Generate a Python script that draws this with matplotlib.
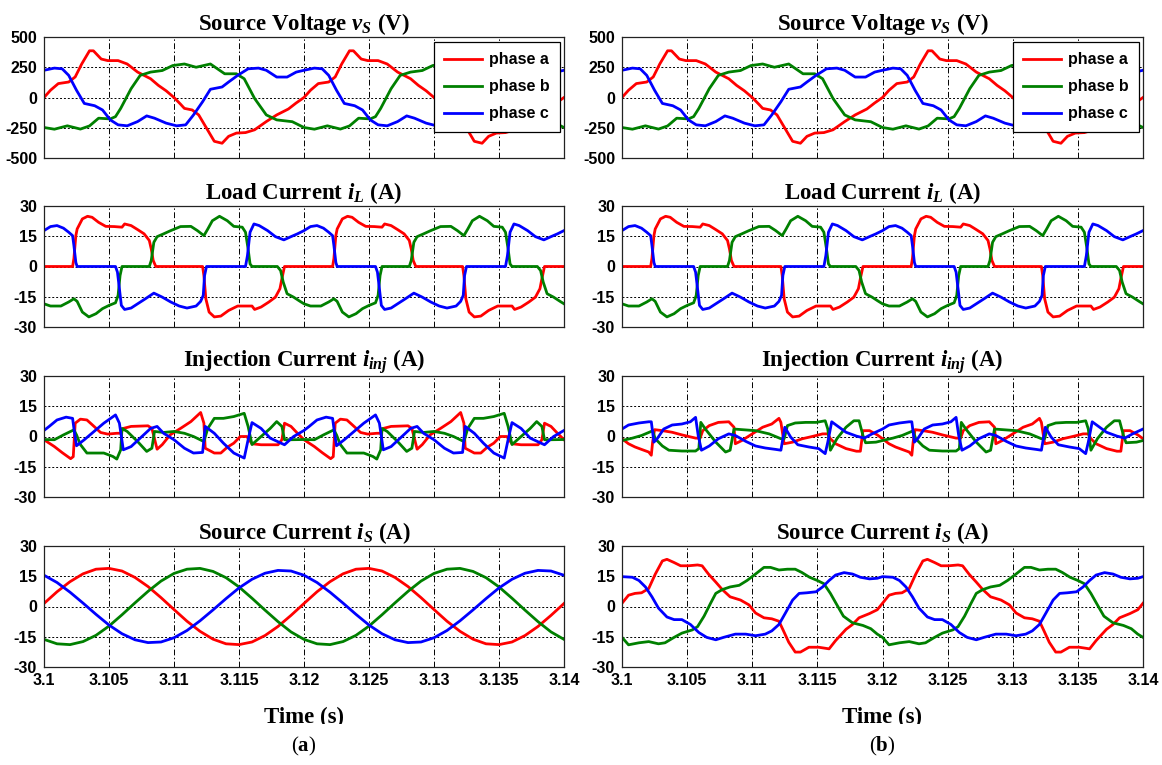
import numpy as np
import matplotlib.pyplot as plt
from matplotlib.patches import Rectangle

plt.rcParams['mathtext.fontset'] = 'custom'
plt.rcParams['mathtext.rm'] = 'Liberation Serif:bold'
plt.rcParams['mathtext.it'] = 'Liberation Serif:italic:bold'
plt.rcParams['mathtext.bf'] = 'Liberation Serif:bold'

# all times are in ms after t = 3.1 s

# source voltage (V), same in both cases
vsa_t = [0, 0.5, 1.1, 1.9, 2.4, 2.9, 3.5, 3.8, 4.4, 4.9, 5.7, 6.4, 7.2, 8.2, 8.8, 9.4, 10.0, 10.5, 10.8, 11.4, 11.9, 12.5, 13.1, 13.7, 14.2, 14.8, 15.5, 16.2, 17.1, 17.9, 18.8, 19.4,
         20, 20.5, 21.1, 21.9, 22.4, 22.9, 23.5, 23.8, 24.4, 24.9, 25.7, 26.4, 27.2, 28.2, 28.8, 29.4, 30.0, 30.5, 30.8, 31.4, 31.9, 32.5, 33.1, 33.7, 34.2, 34.8, 35.5, 36.2, 37.1, 37.9, 38.8, 39.4, 40]
vsa = [0, 60, 115, 128, 170, 277, 386, 386, 318, 305, 305, 277, 210, 155, 100, 55, 0, -55, -90, -103, -144, -253, -362, -378, -321, -294, -290, -267, -199, -144, -95, -45,
       0, 60, 115, 128, 170, 277, 386, 386, 318, 305, 305, 277, 210, 155, 100, 55, 0, -55, -90, -103, -144, -253, -362, -378, -321, -294, -290, -267, -199, -144, -95, -45, 0]
vsb_t = [0, 0.8, 1.8, 2.8, 3.5, 4.2, 5.1, 5.5, 5.9, 6.7, 7.4, 8.2, 9.1, 9.9, 10.8, 11.7, 12.8, 13.9, 14.8, 15.4, 16.2, 17.1, 17.9, 19.1,
         20, 20.8, 21.8, 22.8, 23.5, 24.2, 25.1, 25.5, 25.9, 26.7, 27.4, 28.2, 29.1, 29.9, 30.8, 31.7, 32.8, 33.9, 34.8, 35.4, 36.2, 37.1, 37.9, 39.1, 40]
vsb = [-248, -262, -234, -261, -235, -171, -177, -158, -90, 73, 183, 210, 223, 264, 277, 250, 277, 196, 196, 155, -8, -144, -185, -200,
       -248, -262, -234, -261, -235, -171, -177, -158, -90, 73, 183, 210, 223, 264, 277, 250, 277, 196, 196, 155, -8, -144, -185, -200, -248]
vsc_t = [0, 0.8, 1.4, 1.9, 2.5, 3.1, 3.9, 4.5, 5.1, 5.7, 6.4, 7.2, 7.9, 8.5, 9.4, 10.2, 10.9, 11.5, 12.2, 12.8, 13.7, 14.2, 14.9, 15.7, 16.5, 17.1, 17.9, 18.7, 19.4,
         20, 20.8, 21.4, 21.9, 22.5, 23.1, 23.9, 24.5, 25.1, 25.7, 26.4, 27.2, 27.9, 28.5, 29.4, 30.2, 30.9, 31.5, 32.2, 32.8, 33.7, 34.2, 34.9, 35.7, 36.5, 37.1, 37.9, 38.7, 39.4, 40]
vsc = [225, 243, 237, 183, 60, -49, -68, -103, -185, -226, -234, -199, -152, -171, -212, -234, -226, -144, -35, 68, 87, 128, 183, 237, 243, 225, 169, 169, 210,
       225, 243, 237, 183, 60, -49, -68, -103, -185, -226, -234, -199, -152, -171, -212, -234, -226, -144, -35, 68, 87, 128, 183, 237, 243, 225, 169, 169, 210, 225]

# load current (A), same in both cases
ila_t = [0, 2.2, 2.3, 2.45, 2.55, 2.95, 3.35, 3.7, 4.2, 4.75, 5.4, 6.0, 6.2, 6.7, 7.2, 7.7, 8.1, 8.25, 8.4, 8.6, 12.2, 12.3, 12.45, 12.7, 13.1, 13.6, 14.2, 14.9, 16.0, 16.2, 16.7, 17.3, 17.8, 18.15, 18.3, 18.5,
         20, 22.2, 22.3, 22.45, 22.55, 22.95, 23.35, 23.7, 24.2, 24.75, 25.4, 26.0, 26.2, 26.7, 27.2, 27.7, 28.1, 28.25, 28.4, 28.6, 32.2, 32.3, 32.45, 32.7, 33.1, 33.6, 34.2, 34.9, 36.0, 36.2, 36.7, 37.3, 37.8, 38.15, 38.3, 38.5, 40]
ila = [0, 0, 4, 15.3, 18.6, 23.6, 24.9, 24.4, 21.9, 19.9, 19.8, 19.5, 21.1, 20.3, 18.3, 16.2, 12.9, 8.7, 3, 0, 0, -4.5, -16, -22.6, -25, -24.6, -21.8, -19.6, -19.6, -21.3, -20.1, -17.6, -15.2, -11, -6, 0,
       0, 0, 4, 15.3, 18.6, 23.6, 24.9, 24.4, 21.9, 19.9, 19.8, 19.5, 21.1, 20.3, 18.3, 16.2, 12.9, 8.7, 3, 0, 0, -4.5, -16, -22.6, -25, -24.6, -21.8, -19.6, -19.6, -21.3, -20.1, -17.6, -15.2, -11, -6, 0, 0]
ilb_t = [0, 0.5, 1.3, 1.9, 2.3, 2.55, 2.95, 3.45, 4.0, 4.5, 5.0, 5.5, 5.7, 5.85, 6.0, 8.1, 8.25, 8.45, 8.7, 9.2, 9.75, 10.5, 11.3, 11.8, 12.3, 12.6, 12.95, 13.5, 14.1, 14.6, 15.25, 15.5, 15.7, 15.85, 16.0, 17.95, 18.2, 18.4, 18.7, 19.2, 19.7,
         20, 20.5, 21.3, 21.9, 22.3, 22.55, 22.95, 23.45, 24.0, 24.5, 25.0, 25.5, 25.7, 25.85, 26.0, 28.1, 28.25, 28.45, 28.7, 29.2, 29.75, 30.5, 31.3, 31.8, 32.3, 32.6, 32.95, 33.5, 34.1, 34.6, 35.25, 35.5, 35.7, 35.85, 36.0, 37.95, 38.2, 38.4, 38.7, 39.2, 39.7, 40]
ilb = [-18.5, -19.6, -19.6, -17.6, -16, -17.3, -22.6, -25, -23.4, -20.9, -19.3, -18, -14.3, -4.5, 0, 0, 3, 12, 14.8, 16.2, 17.8, 19.8, 19.9, 17.8, 15.3, 18.6, 22.7, 24.9, 22.7, 19.9, 19.5, 17, 8.7, 1.3, 0, 0, -2, -7.7, -13.5, -15.2, -17.3,
       -18.5, -19.6, -19.6, -17.6, -16, -17.3, -22.6, -25, -23.4, -20.9, -19.3, -18, -14.3, -4.5, 0, 0, 3, 12, 14.8, 16.2, 17.8, 19.8, 19.9, 17.8, 15.3, 18.6, 22.7, 24.9, 22.7, 19.9, 19.5, 17, 8.7, 1.3, 0, 0, -2, -7.7, -13.5, -15.2, -17.3, -18.5]
ilc_t = [0, 0.5, 1.0, 1.5, 1.9, 2.2, 2.3, 2.45, 2.55, 5.5, 5.65, 5.8, 5.95, 6.2, 6.7, 7.2, 7.8, 8.45, 9.1, 9.75, 10.4, 11.0, 11.7, 12.05, 12.25, 12.35, 12.5, 15.5, 15.65, 15.85, 16.15, 16.55, 17.2, 17.8, 18.45, 19.0, 19.5,
         20, 20.5, 21.0, 21.5, 21.9, 22.2, 22.3, 22.45, 22.55, 25.5, 25.65, 25.8, 25.95, 26.2, 26.7, 27.2, 27.8, 28.45, 29.1, 29.75, 30.4, 31.0, 31.7, 32.05, 32.25, 32.35, 32.5, 35.5, 35.65, 35.85, 36.15, 36.55, 37.2, 37.8, 38.45, 39.0, 39.5, 40]
ilc = [17.8, 19.8, 20.3, 19, 17, 15.3, 10.4, 2, 0, 0, -2.8, -11, -19.3, -21.3, -20.6, -18.5, -16, -13.2, -15.2, -17.6, -19.6, -20.6, -19.6, -17.3, -14.3, -4.5, 0, 0, 5.4, 17, 21.1, 20.3, 17.8, 14.8, 13.2, 14.8, 16.2,
       17.8, 19.8, 20.3, 19, 17, 15.3, 10.4, 2, 0, 0, -2.8, -11, -19.3, -21.3, -20.6, -18.5, -16, -13.2, -15.2, -17.6, -19.6, -20.6, -19.6, -17.3, -14.3, -4.5, 0, 0, 5.4, 17, 21.1, 20.3, 17.8, 14.8, 13.2, 14.8, 16.2, 17.8]

# injection current (A), case (a)
inj1a_t = [0, 0.8, 1.4, 2.05, 2.25, 2.4, 2.8, 3.3, 3.85, 4.35, 4.9, 5.6, 5.9, 6.1, 6.7, 8.0, 8.3, 8.7, 9.1, 9.7, 10.5, 11.3, 12.05, 12.3, 12.4, 13.1, 13.6, 14.1, 14.6, 15.1, 15.6, 16.0, 16.7, 18.0, 18.3, 18.5, 19.0, 19.5,
           20, 20.8, 21.4, 22.05, 22.25, 22.4, 22.8, 23.3, 23.85, 24.35, 24.9, 25.6, 25.9, 26.1, 26.7, 28.0, 28.3, 28.7, 29.1, 29.7, 30.5, 31.3, 32.05, 32.3, 32.4, 33.1, 33.6, 34.1, 34.6, 35.1, 35.6, 36.0, 36.7, 38.0, 38.3, 38.5, 39.0, 39.5, 40]
inj1a = [-1.6, -5, -8, -11, -10, 6.6, 8.6, 8.2, 5, 2, 1.2, 1.6, 1.6, 4, 5, 5.3, 4, -6.3, -4, 0.8, 4, 7.4, 11.9, 6.6, -5.8, -8.2, -8.2, -5.3, -3.3, 0, 0, -3.6, -4.1, -4.1, -1.6, 6.6, 5, 1.6,
         -1.6, -5, -8, -11, -10, 6.6, 8.6, 8.2, 5, 2, 1.2, 1.6, 1.6, 4, 5, 5.3, 4, -6.3, -4, 0.8, 4, 7.4, 11.9, 6.6, -5.8, -8.2, -8.2, -5.3, -3.3, 0, 0, -3.6, -4.1, -4.1, -1.6, 6.6, 5, 1.6, -1.6]
inj1b_t = [0, 0.8, 1.5, 2.3, 2.5, 2.8, 3.3, 3.85, 4.6, 5.3, 5.6, 5.9, 6.0, 6.4, 7.2, 7.9, 8.3, 8.5, 9.2, 10.0, 10.8, 11.5, 12.3, 12.6, 13.1, 13.8, 14.6, 15.4, 15.7, 16.0, 16.7, 17.4, 17.9, 18.3, 18.5, 19.0,
           20, 20.8, 21.5, 22.3, 22.5, 22.8, 23.3, 23.85, 24.6, 25.3, 25.6, 25.9, 26.0, 26.4, 27.2, 27.9, 28.3, 28.5, 29.2, 30.0, 30.8, 31.5, 32.3, 32.6, 33.1, 33.8, 34.6, 35.4, 35.7, 36.0, 36.7, 37.4, 37.9, 38.3, 38.5, 39.0, 40]
inj1b = [-1.5, -1.6, 0.8, 3.3, 0.8, -4, -8.2, -8.2, -8.2, -9.9, -11.2, -6.6, 4, 2.5, -2.5, -7.4, -5.8, 2.5, 2, 2.5, 1.6, 0, -2.5, 4, 9, 9, 9.9, 11.5, 5, -4, 0, 4, 7.4, 5, -1.6, -1.6,
         -1.5, -1.6, 0.8, 3.3, 0.8, -4, -8.2, -8.2, -8.2, -9.9, -11.2, -6.6, 4, 2.5, -2.5, -7.4, -5.8, 2.5, 2, 2.5, 1.6, 0, -2.5, 4, 9, 9, 9.9, 11.5, 5, -4, 0, 4, 7.4, 5, -1.6, -1.6, -1.5]
inj1c_t = [0, 0.4, 1.0, 1.7, 2.2, 2.35, 2.5, 3.1, 3.85, 4.6, 5.5, 5.8, 6.1, 6.7, 7.4, 8.2, 8.7, 9.2, 10.0, 10.8, 11.5, 12.2, 12.4, 13.1, 13.8, 14.6, 15.4, 15.7, 16.0, 16.7, 17.4, 18.5, 19.2,
           20, 20.4, 21.0, 21.7, 22.2, 22.35, 22.5, 23.1, 23.85, 24.6, 25.5, 25.8, 26.1, 26.7, 27.4, 28.2, 28.7, 29.2, 30.0, 30.8, 31.5, 32.2, 32.4, 33.1, 33.8, 34.6, 35.4, 35.7, 36.0, 36.7, 37.4, 38.5, 39.2, 40]
inj1c = [3, 5, 8.2, 9.6, 9, 1.6, -4.6, -1.6, 2.5, 6.6, 10.7, 6.6, -6.6, -5, -0.8, 4, 5, 1.6, -1.6, -5.8, -8.2, -7.9, 5, 1.6, -3.3, -8.2, -10.7, -1.6, 6.9, 4, -0.8, -4.1, 0,
         3, 5, 8.2, 9.6, 9, 1.6, -4.6, -1.6, 2.5, 6.6, 10.7, 6.6, -6.6, -5, -0.8, 4, 5, 1.6, -1.6, -5.8, -8.2, -7.9, 5, 1.6, -3.3, -8.2, -10.7, -1.6, 6.9, 4, -0.8, -4.1, 0, 3]

# injection current (A), case (b)
inj2a_t = [0, 0.5, 1.0, 1.5, 2.05, 2.25, 2.35, 2.5, 3.1, 3.85, 4.6, 5.65, 6.0, 6.2, 6.7, 7.4, 8.2, 8.6, 8.7, 9.2, 10.0, 10.8, 11.5, 12.05, 12.2, 12.45, 13.1, 13.85, 14.6, 15.4, 15.8, 16.0, 16.4, 17.2, 18.0, 18.3, 18.5, 19.0, 19.6,
           20, 20.5, 21.0, 21.5, 22.05, 22.25, 22.35, 22.5, 23.1, 23.85, 24.6, 25.65, 26.0, 26.2, 26.7, 27.4, 28.2, 28.6, 28.7, 29.2, 30.0, 30.8, 31.5, 32.05, 32.2, 32.45, 33.1, 33.85, 34.6, 35.4, 35.8, 36.0, 36.4, 37.2, 38.0, 38.3, 38.5, 39.0, 39.6, 40]
inj2a = [-1.1, -3.6, -5.2, -6.4, -7.7, -9.3, -2.8, 3.4, 2.9, 2.1, 0.8, -0.8, -0.8, 2.9, 5.4, 7, 7.3, 4.6, -3.6, -2, 1.3, 4.6, 6.2, 9, 7, -3.6, -2.8, -1.1, 0, 1.3, 1.3, -1.1, -3.6, -6, -7.3, -7.3, 2.9, 2.9, 0.8,
         -1.1, -3.6, -5.2, -6.4, -7.7, -9.3, -2.8, 3.4, 2.9, 2.1, 0.8, -0.8, -0.8, 2.9, 5.4, 7, 7.3, 4.6, -3.6, -2, 1.3, 4.6, 6.2, 9, 7, -3.6, -2.8, -1.1, 0, 1.3, 1.3, -1.1, -3.6, -6, -7.3, -7.3, 2.9, 2.9, 0.8, -1.1]
inj2b_t = [0, 0.8, 1.5, 2.2, 2.35, 2.55, 3.1, 3.6, 4.6, 5.65, 5.9, 6.05, 6.4, 7.2, 7.95, 8.3, 8.6, 9.2, 10.25, 11.3, 12.2, 12.45, 12.7, 13.3, 14.1, 14.9, 15.6, 15.8, 16.0, 16.5, 17.2, 17.8, 18.2, 18.5, 18.7, 19.5,
           20, 20.8, 21.5, 22.2, 22.35, 22.55, 23.1, 23.6, 24.6, 25.65, 25.9, 26.05, 26.4, 27.2, 27.95, 28.3, 28.6, 29.2, 30.25, 31.3, 32.2, 32.45, 32.7, 33.3, 34.1, 34.9, 35.6, 35.8, 36.0, 36.5, 37.2, 37.8, 38.2, 38.5, 38.7, 39.5, 40]
inj2b = [-2, -0.8, 0.5, 2.4, 2.9, -1.1, -4.7, -6.8, -7.2, -7.2, -6, 7, 3.7, -2.8, -7.7, -6.8, 3.7, 3.4, 2.9, 1.3, -1.1, -1.1, 5.4, 6.7, 7, 7, 7.8, 3.7, -6.8, -1.1, 4.6, 7.8, 7.8, 0.5, -3.1, -2.8,
         -2, -0.8, 0.5, 2.4, 2.9, -1.1, -4.7, -6.8, -7.2, -7.2, -6, 7, 3.7, -2.8, -7.7, -6.8, 3.7, 3.4, 2.9, 1.3, -1.1, -1.1, 5.4, 6.7, 7, 7, 7.8, 3.7, -6.8, -1.1, 4.6, 7.8, 7.8, 0.5, -3.1, -2.8, -2]
inj2c_t = [0, 0.5, 1.3, 2.05, 2.25, 2.45, 2.7, 3.2, 3.85, 4.6, 5.25, 5.65, 5.85, 6.1, 6.7, 7.4, 8.2, 8.7, 9.5, 10.25, 11.0, 11.8, 12.2, 12.35, 12.5, 12.95, 13.5, 14.35, 15.1, 15.6, 15.8, 16.1, 16.5, 17.2, 18.0, 18.6, 19.2,
           20, 20.5, 21.3, 22.05, 22.25, 22.45, 22.7, 23.2, 23.85, 24.6, 25.25, 25.65, 25.85, 26.1, 26.7, 27.4, 28.2, 28.7, 29.5, 30.25, 31.0, 31.8, 32.2, 32.35, 32.5, 32.95, 33.5, 34.35, 35.1, 35.6, 35.8, 36.1, 36.5, 37.2, 38.0, 38.6, 39.2, 40]
inj2c = [3.7, 5.7, 6.7, 7.3, 7.3, -2.8, -1.1, 3.7, 5.7, 6.2, 7.3, 9.5, 0.5, -6.8, -4.7, -1.1, 1.3, 0.5, -2.4, -4.7, -5.7, -6.4, -6.8, -1.1, 4.6, -0.3, -4.1, -5.2, -6, -8.5, -2.8, 7.3, 5.4, 2.1, 0.2, -0.8, 1.3,
         3.7, 5.7, 6.7, 7.3, 7.3, -2.8, -1.1, 3.7, 5.7, 6.2, 7.3, 9.5, 0.5, -6.8, -4.7, -1.1, 1.3, 0.5, -2.4, -4.7, -5.7, -6.4, -6.8, -1.1, 4.6, -0.3, -4.1, -5.2, -6, -8.5, -2.8, 7.3, 5.4, 2.1, 0.2, -0.8, 1.3, 3.7]

# source current (A), case (a): sampled every 1 ms
is1_t = list(range(41))
is1a = [1.5, 7.3, 12.3, 16.2, 18.5, 18.9, 17.6, 14.4, 9.9, 4.4, -1.5, -7.3, -12.3, -16.2, -18.5, -18.9, -17.6, -14.4, -9.9, -4.4,
        1.5, 7.3, 12.3, 16.2, 18.5, 18.9, 17.6, 14.4, 9.9, 4.4, -1.5, -7.3, -12.3, -16.2, -18.5, -18.9, -17.6, -14.4, -9.9, -4.4, 1.5]
is1b = [-16.3, -18.5, -18.9, -17.4, -14.3, -9.7, -4.1, 1.8, 7.5, 12.6, 16.4, 18.5, 18.9, 17.4, 14.3, 9.7, 4.1, -1.8, -7.5, -12.6,
        -16.3, -18.5, -18.9, -17.4, -14.3, -9.7, -4.1, 1.8, 7.5, 12.6, 16.4, 18.5, 18.9, 17.4, 14.3, 9.7, 4.1, -1.8, -7.5, -12.6, -16.3]
is1c = [15.5, 11.9, 7.1, 1.7, -3.9, -9.2, -13.5, -16.5, -17.9, -17.6, -15.5, -11.9, -7.1, -1.7, 3.9, 9.2, 13.5, 16.5, 17.9, 17.6,
        15.5, 11.9, 7.1, 1.7, -3.9, -9.2, -13.5, -16.5, -17.9, -17.6, -15.5, -11.9, -7.1, -1.7, 3.9, 9.2, 13.5, 16.5, 17.9, 17.6, 15.5]

# source current (A), case (b)
is2a_t = [0, 0.5, 1.0, 1.5, 2.05, 2.55, 3.1, 3.45, 4.0, 4.5, 5.1, 5.8, 6.15, 6.65, 7.2, 7.7, 8.3, 9.1, 9.75, 10.25, 10.9, 11.5, 12.05, 12.4, 12.8, 13.3, 13.7, 14.35, 15.1, 15.9, 16.4, 17.2, 17.7, 18.2, 19.0, 19.6,
          20, 20.5, 21.0, 21.5, 22.05, 22.55, 23.1, 23.45, 24.0, 24.5, 25.1, 25.8, 26.15, 26.65, 27.2, 27.7, 28.3, 29.1, 29.75, 30.25, 30.9, 31.5, 32.05, 32.4, 32.8, 33.3, 33.7, 34.35, 35.1, 35.9, 36.4, 37.2, 37.7, 38.2, 39.0, 39.6, 40]
is2a = [1.6, 5.6, 6.5, 6.8, 8.9, 16, 22.6, 23.4, 21.8, 20.2, 20.2, 20.6, 20.2, 16, 12.1, 8.4, 4.8, 3.2, 0.8, -3.2, -5.6, -6.1, -7.3, -12.1, -17.7, -22.6, -22.6, -20.2, -20.2, -21, -16.9, -11.3, -8.9, -5.6, -3.5, -1.6,
        1.6, 5.6, 6.5, 6.8, 8.9, 16, 22.6, 23.4, 21.8, 20.2, 20.2, 20.6, 20.2, 16, 12.1, 8.4, 4.8, 3.2, 0.8, -3.2, -5.6, -6.1, -7.3, -12.1, -17.7, -22.6, -22.6, -20.2, -20.2, -21, -16.9, -11.3, -8.9, -5.6, -3.5, -1.6, 1.6]
is2b_t = [0, 0.5, 1.3, 2.05, 2.8, 3.3, 4.0, 4.6, 5.4, 5.8, 6.3, 6.8, 7.2, 7.7, 8.3, 9.0, 9.6, 10.25, 10.9, 11.4, 12.05, 12.7, 13.3, 13.8, 14.4, 15.0, 15.5, 16.0, 16.5, 17.0, 17.7, 18.5, 19.1, 19.6,
          20, 20.5, 21.3, 22.05, 22.8, 23.3, 24.0, 24.6, 25.4, 25.8, 26.3, 26.8, 27.2, 27.7, 28.3, 29.0, 29.6, 30.25, 30.9, 31.4, 32.05, 32.7, 33.3, 33.8, 34.4, 35.0, 35.5, 36.0, 36.5, 37.0, 37.7, 38.5, 39.1, 39.6, 40]
is2b = [-15.3, -19, -18, -17.4, -18.5, -18, -15.3, -13.2, -11.6, -10, -4.8, 1.6, 6.5, 8.4, 9.7, 10.5, 12.9, 16.1, 19.4, 19.4, 18.1, 18.5, 18.5, 16.9, 14.5, 12.9, 11.3, 6.5, 0.8, -4.8, -8.1, -9.4, -11, -13.7,
        -15.3, -19, -18, -17.4, -18.5, -18, -15.3, -13.2, -11.6, -10, -4.8, 1.6, 6.5, 8.4, 9.7, 10.5, 12.9, 16.1, 19.4, 19.4, 18.1, 18.5, 18.5, 16.9, 14.5, 12.9, 11.3, 6.5, 0.8, -4.8, -8.1, -9.4, -11, -13.7, -15.3]
is2c_t = [0, 0.8, 1.3, 1.8, 2.3, 2.8, 3.45, 4.0, 4.6, 5.25, 5.9, 6.5, 7.2, 7.8, 8.7, 9.5, 10.25, 11.0, 11.5, 12.05, 12.55, 13.1, 13.6, 14.2, 14.9, 15.4, 15.9, 16.4, 17.05, 17.7, 18.3, 19.0, 19.6,
          20, 20.8, 21.3, 21.8, 22.3, 22.8, 23.45, 24.0, 24.6, 25.25, 25.9, 26.5, 27.2, 27.8, 28.7, 29.5, 30.25, 31.0, 31.5, 32.05, 32.55, 33.1, 33.6, 34.2, 34.9, 35.4, 35.9, 36.4, 37.05, 37.7, 38.3, 39.0, 39.6, 40]
is2c = [14.8, 14.5, 12.9, 9.7, 4.8, -0.8, -5.2, -6.5, -6.5, -8.9, -12.9, -15.3, -16.5, -15.3, -13.7, -13.7, -14.5, -13.7, -12.1, -8.9, -3.2, 3.2, 6.5, 6.8, 7.3, 9.7, 12.9, 15.6, 16.8, 16.1, 14.5, 13.7, 14,
        14.8, 14.5, 12.9, 9.7, 4.8, -0.8, -5.2, -6.5, -6.5, -8.9, -12.9, -15.3, -16.5, -15.3, -13.7, -13.7, -14.5, -13.7, -12.1, -8.9, -3.2, 3.2, 6.5, 6.8, 7.3, 9.7, 12.9, 15.6, 16.8, 16.1, 14.5, 13.7, 14, 14.8]

xticks = [3.1, 3.105, 3.11, 3.115, 3.12, 3.125, 3.13, 3.135, 3.14]
xtick_labels = ['3.1', '3.105', '3.11', '3.115', '3.12', '3.125', '3.13', '3.135', '3.14']
phase_names = ['phase a', 'phase b', 'phase c']
phase_colors = ['#ff0000', '#008000', '#0000ff']


def sec(ms):
    return 3.1 + np.asarray(ms, dtype=float) / 1000.0


fig = plt.figure(figsize=(11.62, 7.65), dpi=100)
W, H = 1162.0, 765.0
cols = [(44, 564), (622, 1143)]
rows = [(37, 158), (206, 327), (376, 497), (546, 667)]

titles = ['Source Voltage $v_S$ (V)', 'Load Current $i_L$ (A)',
          'Injection Current $i_{inj}$ (A)', 'Source Current $i_S$ (A)']

voltage = [(vsa_t, vsa), (vsb_t, vsb), (vsc_t, vsc)]
load = [(ila_t, ila), (ilb_t, ilb), (ilc_t, ilc)]
cases = [
    [voltage, load,
     [(inj1a_t, inj1a), (inj1b_t, inj1b), (inj1c_t, inj1c)],
     [(is1_t, is1a), (is1_t, is1b), (is1_t, is1c)]],
    [voltage, load,
     [(inj2a_t, inj2a), (inj2b_t, inj2b), (inj2c_t, inj2c)],
     [(is2a_t, is2a), (is2b_t, is2b), (is2c_t, is2c)]],
]

tick_font = dict(family='Liberation Sans', weight='bold', size=11.5)

for ci, (x0, x1) in enumerate(cols):
    for ri, (y0, y1) in enumerate(rows):
        ax = fig.add_axes([x0 / W, 1 - y1 / H, (x1 - x0) / W, (y1 - y0) / H])
        for (t, v), c, name in zip(cases[ci][ri], phase_colors, phase_names):
            ax.plot(sec(t), v, color=c, lw=2.0, label=name, solid_joinstyle='round')
        ax.set_xlim(3.1, 3.14)
        if ri == 0:
            ax.set_ylim(-500, 500)
            ax.set_yticks([-500, -250, 0, 250, 500])
        else:
            ax.set_ylim(-30, 30)
            ax.set_yticks([-30, -15, 0, 15, 30])
        ax.set_xticks(xticks)
        if ri == 3:
            ax.set_xticklabels(xtick_labels, fontdict=tick_font)
        else:
            ax.set_xticklabels([])
        ax.set_yticklabels([str(int(v)) for v in ax.get_yticks()], fontdict=tick_font)
        ax.tick_params(length=0, pad=5)
        ax.tick_params(axis='x', pad=4)
        ax.xaxis.grid(True, color='k', lw=0.7, ls=(0, (6, 2.5, 1.5, 2.5)))
        ax.yaxis.grid(True, color='k', lw=0.7, ls=(0, (2, 2)))
        for s in ax.spines.values():
            s.set_linewidth(0.9)
            s.set_color('#222222')
        ax.set_title(titles[ri], family='Liberation Serif', weight='bold',
                     fontsize=16.5, pad=4)
        if ri == 0:
            leg = ax.legend(loc='upper right', bbox_to_anchor=(0.992, 0.96),
                            borderaxespad=0, fancybox=False, framealpha=1,
                            edgecolor='k',
                            prop=dict(family='Liberation Sans', weight='bold', size=11.5),
                            handlelength=2.4, handletextpad=0.4, labelspacing=0.75,
                            borderpad=0.65)
            leg.get_frame().set_linewidth(0.9)

    xc = (x0 + x1) / 2 / W
    fig.text(xc, 1 - 723 / H, 'Time (s)', ha='center', va='baseline',
             family='Liberation Serif', weight='bold', fontsize=16.5, zorder=1)
    fig.patches.append(Rectangle((x0 / W, 1 - 733 / H), (x1 - x0) / W, 9 / H,
                                 transform=fig.transFigure, facecolor='white',
                                 edgecolor='none', zorder=2))
    fig.text(xc, 1 - 746 / H, '(' + ['$\\mathbf{a}$', '$\\mathbf{b}$'][ci] + ')',
             ha='center', va='center', family='Liberation Serif', fontsize=15)

fig.savefig('out.png', dpi=100)
